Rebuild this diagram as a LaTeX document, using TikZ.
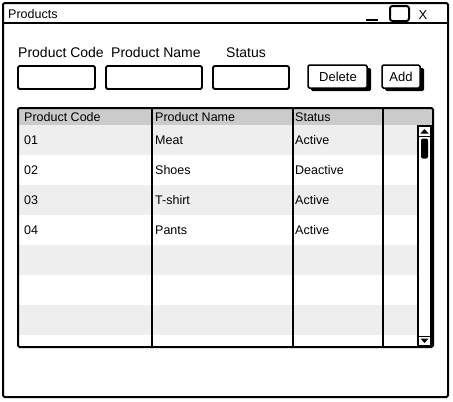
\documentclass[tikz,border=0pt]{standalone}
\usepackage{fontspec}
\setmainfont{Liberation Sans}
\begin{document}
\begin{tikzpicture}[x=1pt,y=-1pt,
  sk/.style={draw=black,line width=1.8pt,rounded corners=1.5pt},
  lbl/.style={anchor=base west,inner sep=0pt,font=\fontsize{14}{16}\selectfont},
  cell/.style={anchor=base west,inner sep=0pt,font=\fontsize{12.5}{15}\selectfont},
  btntxt/.style={inner sep=0pt,font=\fontsize{13}{15}\selectfont},
  field/.style={sk,fill=white},
  shadow/.style={fill=black,rounded corners=1.5pt},
  rowg/.style={fill=rowgray,draw=none},
]
\definecolor{rowgray}{HTML}{EEEEEE}
\definecolor{headgray}{HTML}{CBCBCB}
\useasboundingbox[fill=white] (0,0) rectangle (453,402);
% window
\draw[sk,fill=white,line width=2pt] (3,3) rectangle (448,397);
\draw[line width=1.8pt] (3,23) -- (448,23);
\node[anchor=base west,inner sep=0pt,font=\fontsize{12.5}{15}\selectfont] (title) at (8,18) {Products};
\draw[line width=2pt] (366,20) -- (378,20);
\draw[sk,line width=2pt,rounded corners=2.5pt] (390,6) rectangle (409,21);
\node[btntxt,anchor=base] (close) at (423,19) {X};
% labels
\node[lbl] (l1) at (18,57) {Product Code};
\node[lbl] (l2) at (111,57) {Product Name};
\node[lbl] (l3) at (226,57) {Status};
% fields
\draw[field] (18,66) rectangle (95,89);
\draw[field] (106,66) rectangle (202,89);
\draw[field] (213,66) rectangle (289,89);
% buttons
\fill[shadow] (311,68) rectangle (371,91);
\draw[sk,fill=white,line width=1.5pt] (308,65) rectangle (367,88);
\node[btntxt] (del) at (338,76.5) {Delete};
\fill[shadow] (385,68) rectangle (424,91);
\draw[sk,fill=white,line width=1.5pt] (382,65) rectangle (420,88);
\node[btntxt] (add) at (401,76.5) {Add};
% table
\fill[white] (18,108) rectangle (433,347);
\fill[headgray] (18,108) rectangle (433,125);
\foreach \y in {125,185,245,305} {\fill[rowgray] (18,\y) rectangle (418,\y+30);}
\draw[sk,line width=2pt] (18,108) rectangle (433,347);
\foreach \x in {152,293,383} {\draw[line width=2pt] (\x,108) -- (\x,347);}
% header text
\node[cell] (h1) at (24,121.5) {Product Code};
\node[cell] (h2) at (155,121.5) {Product Name};
\node[cell] (h3) at (295,121.5) {Status};
% rows
\node[cell] (c11) at (24,144.5) {01};
\node[cell] (c12) at (155,144.5) {Meat};
\node[cell] (c13) at (295,144.5) {Active};
\node[cell] (c21) at (24,174.5) {02};
\node[cell] (c22) at (155,174.5) {Shoes};
\node[cell] (c23) at (295,174.5) {Deactive};
\node[cell] (c31) at (24,204.5) {03};
\node[cell] (c32) at (155,204.5) {T-shirt};
\node[cell] (c33) at (295,204.5) {Active};
\node[cell] (c41) at (24,234.5) {04};
\node[cell] (c42) at (155,234.5) {Pants};
\node[cell] (c43) at (295,234.5) {Active};
% scrollbar
\draw[fill=white,line width=1.5pt] (418,126) rectangle (431,346);
\draw[line width=1pt] (418,136) -- (431,136);
\fill (420.5,133.5) -- (428.5,133.5) -- (424.5,129) -- cycle;
\fill[rounded corners=2pt] (421,138.5) rectangle (428,158.5);
\draw[line width=1pt] (418,336) -- (431,336);
\fill (420.5,338.5) -- (428.5,338.5) -- (424.5,343) -- cycle;
\end{tikzpicture}
\end{document}
